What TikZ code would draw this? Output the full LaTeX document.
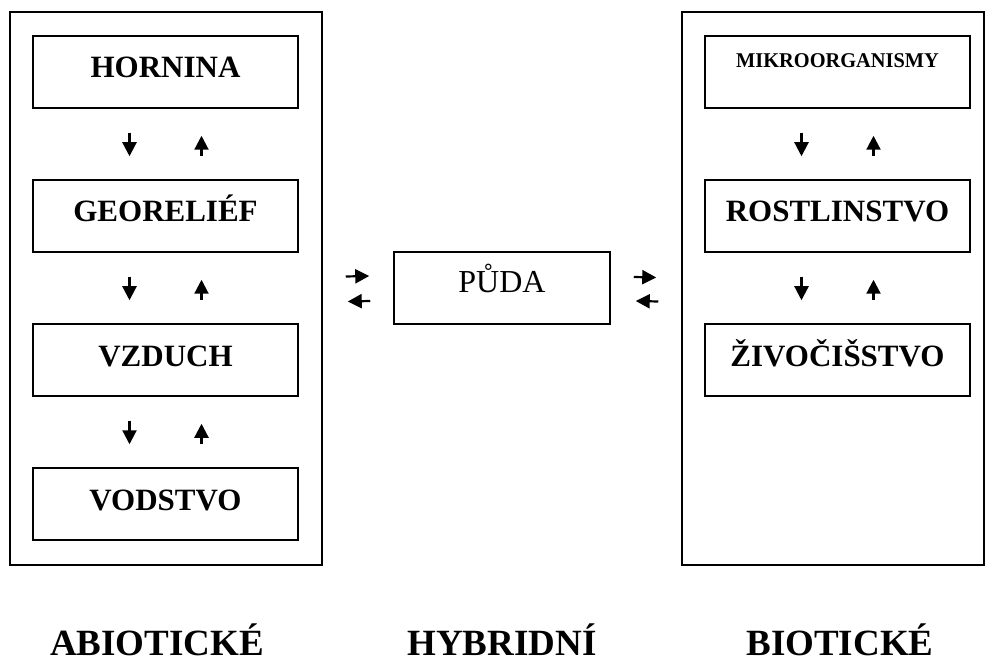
\documentclass[tikz,border=0pt]{standalone}
\usepackage{fontspec}
\setmainfont{Liberation Serif}
\usetikzlibrary{arrows.meta}
\begin{document}
\begin{tikzpicture}[x=1pt,y=-1pt,
  frame/.style={draw, line width=1.5pt, inner sep=0pt},
  box/.style={draw, line width=1.5pt, minimum width=265pt, minimum height=72pt, inner sep=0pt,
    font=\fontsize{31}{31}\selectfont\bfseries, text height=20.5pt, text depth=8.5pt},
  arr/.style={line width=2.2pt, -{Triangle[length=14pt,width=14pt]}},
  cat/.style={font=\fontsize{37}{37}\selectfont\bfseries, anchor=base, inner sep=0pt}]
\useasboundingbox (0,0) rectangle (986,663);
% outer frames
\node[frame, minimum width=312pt, minimum height=553pt] (L) at (166,288.5) {};
\node[frame, minimum width=302pt, minimum height=553pt] (R) at (833,288.5) {};
% left column
\node[box] (h1) at (165.5,72) {HORNINA};
\node[box] (h2) at (165.5,216) {GEORELIÉF};
\node[box] (h3) at (165.5,360) {VZDUCH};
\node[box] (h4) at (165.5,504) {VODSTVO};
% right column
\node[box, font=\fontsize{21}{21}\selectfont\bfseries, text height=14pt, text depth=22pt] (b1) at (837.5,72) {\scalebox{0.97}[1]{MIKROORGANISMY}};
\node[box] (b2) at (837.5,216) {ROSTLINSTVO};
\node[box] (b3) at (837.5,360) {ŽIVOČIŠSTVO};
% middle
\node[box, minimum width=216pt, font=\fontsize{32}{32}\selectfont, text height=21pt, text depth=11pt] (p) at (502,288) {PŮDA};
% vertical arrows
\foreach \a/\b in {h1/h2,h2/h3,h3/h4,b1/b2,b2/b3} {
  \draw[arr] ([xshift=-36pt,yshift=-24pt]\a.south) -- ([xshift=-36pt,yshift=23pt]\b.north);
  \draw[arr] ([xshift=36pt,yshift=23pt]\b.north) -- ([xshift=36pt,yshift=-27pt]\a.south);
}
% horizontal arrows
\draw[arr] ([xshift=23pt,yshift=12pt]L.east) -- ([xshift=-24pt,yshift=12pt]p.west);
\draw[arr] ([xshift=-23pt,yshift=-13pt]p.west) -- ([xshift=25pt,yshift=-13pt]L.east);
\draw[arr] ([xshift=23pt,yshift=11pt]p.east) -- ([xshift=-25pt,yshift=11pt]R.west);
\draw[arr] ([xshift=-23pt,yshift=-13pt]R.west) -- ([xshift=25pt,yshift=-13pt]p.east);
% category labels
\node[cat] (abio) at (157,655) {ABIOTICKÉ};
\node[cat] (hyb) at (502,655) {HYBRIDNÍ};
\node[cat] (bio) at (840,655) {BIOTICKÉ};
\end{tikzpicture}
\end{document}
